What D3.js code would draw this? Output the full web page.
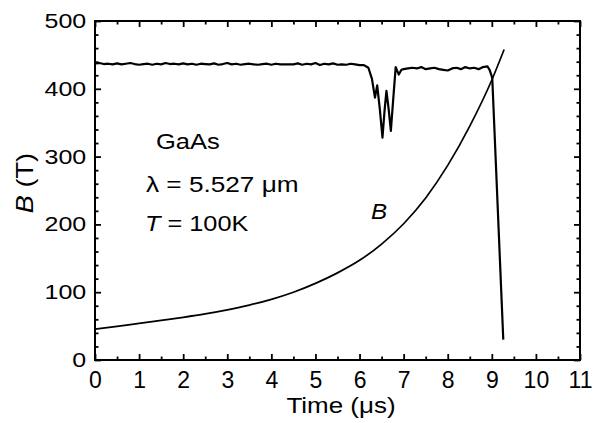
<!DOCTYPE html>
<html>
<head>
<meta charset="utf-8">
<script src="https://cdn.jsdelivr.net/npm/d3@7"></script>
<style>
  body { margin: 0; background: #fff; }
  svg text { font-family: "Liberation Sans", Arial, sans-serif; fill: #000; }
</style>
</head>
<body>
<div id="chart"></div>
<script>
// Transmission trace (plotted on the B axis)
var transTime = [
  0, 0.1, 0.2, 0.3, 0.4, 0.5, 0.6, 0.7, 0.8, 0.9,
  1.0, 1.1, 1.2, 1.3, 1.4, 1.5, 1.6, 1.7, 1.8, 1.9,
  2.0, 2.1, 2.2, 2.3, 2.4, 2.5, 2.6, 2.7, 2.8, 2.9,
  3.0, 3.1, 3.2, 3.3, 3.4, 3.5, 3.6, 3.7, 3.8, 3.9,
  4.0, 4.1, 4.2, 4.3, 4.4, 4.5, 4.6, 4.7, 4.8, 4.9,
  5.0, 5.1, 5.2, 5.3, 5.4, 5.5, 5.6, 5.7, 5.8, 5.9,
  6.0, 6.1, 6.2, 6.28, 6.35, 6.40, 6.46, 6.52, 6.57, 6.61,
  6.66, 6.71, 6.77, 6.82, 6.89, 6.95,
  7.0, 7.1, 7.2, 7.3, 7.4, 7.5, 7.6, 7.7, 7.8, 7.9,
  8.0, 8.1, 8.2, 8.3, 8.4, 8.5, 8.6, 8.7, 8.8, 8.9,
  8.95, 9.01, 9.26
];
var transValue = [
  437.5, 438, 436.5, 437, 436, 437.5, 436, 437, 438, 436.5,
  435.5, 436.5, 437, 435.5, 437, 436, 438, 436.5, 437, 436,
  437.5, 436, 437, 435.5, 437, 436.5, 436, 437.5, 435.5, 436.5,
  438, 436, 437, 435.5, 436.5, 437, 436, 435.5, 436.5, 437,
  435.5, 437, 436, 436, 436, 436, 437.5, 435.5, 437, 436,
  438, 435, 437, 436, 437.5, 435.5, 436, 435.5, 437, 436,
  435, 435, 431, 415, 387, 405, 370, 328, 370, 397,
  370, 338, 390, 432, 421, 428,
  429, 430, 431, 430, 432, 429, 430, 431, 429, 428,
  427, 430, 431, 429, 432, 430, 431, 429, 432, 433,
  428, 416, 30
];

// Magnetic field B(t)
var bTime  = [0, 0.5, 1, 1.5, 2, 2.5, 3, 3.5, 4, 4.5, 5, 5.5, 6, 6.5, 7, 7.5, 8, 8.5, 9, 9.28];
var bValue = [45.5, 49.5, 54, 58.5, 63, 68, 74, 81, 89.5, 100, 113, 128.5, 147, 171, 201, 239, 287, 345, 413, 458];

var xTicks = [0, 1, 2, 3, 4, 5, 6, 7, 8, 9, 10, 11];
var yTicks = [0, 100, 200, 300, 400, 500];

var svgWidth = 599, svgHeight = 423;
var plot = { left: 95, right: 580, top: 21, bottom: 360 };

var svg = d3.select("#chart").append("svg")
  .attr("width", svgWidth)
  .attr("height", svgHeight);

var x = d3.scaleLinear().domain([0, 11]).range([plot.left, plot.right]);
var y = d3.scaleLinear().domain([0, 500]).range([plot.bottom, plot.top]);

var xMinor = d3.range(0.5, 11, 1);
var yMinor = d3.range(0, 501, 20).filter(d => d % 100 !== 0);

// the scanned lettering is a bit wider than Arial, so stretch it horizontally
function styleAxis(g, size, stretch) {
  g.select(".domain").remove();
  g.selectAll("line").attr("stroke", "#000").attr("stroke-width", 1.8);
  g.attr("font-family", null).attr("font-size", null);
  g.selectAll("text")
    .style("font-size", size + "px")
    .attr("transform", `scale(${stretch},1)`);
}

// bottom axis (major with labels, minor without)
svg.append("g").attr("transform", `translate(0,${plot.bottom})`)
  .call(d3.axisBottom(x).tickValues(xTicks).tickSize(-6).tickPadding(12).tickFormat(d3.format("d")))
  .call(styleAxis, 23, 1);
svg.append("g").attr("transform", `translate(0,${plot.bottom})`)
  .call(d3.axisBottom(x).tickValues(xMinor).tickSize(-3.5).tickFormat(""))
  .call(styleAxis, 23, 1);
// top axis
svg.append("g").attr("transform", `translate(0,${plot.top})`)
  .call(d3.axisTop(x).tickValues(xTicks).tickSize(-6).tickFormat(""))
  .call(styleAxis, 23, 1);
svg.append("g").attr("transform", `translate(0,${plot.top})`)
  .call(d3.axisTop(x).tickValues(xMinor).tickSize(-3.5).tickFormat(""))
  .call(styleAxis, 23, 1);
// left axis
svg.append("g").attr("transform", `translate(${plot.left},0)`)
  .call(d3.axisLeft(y).tickValues(yTicks).tickSize(-6).tickPadding(7).tickFormat(d3.format("d")))
  .call(styleAxis, 20, 1.25);
svg.append("g").attr("transform", `translate(${plot.left},0)`)
  .call(d3.axisLeft(y).tickValues(yMinor).tickSize(-3.5).tickFormat(""))
  .call(styleAxis, 20, 1);
// right axis
svg.append("g").attr("transform", `translate(${plot.right},0)`)
  .call(d3.axisRight(y).tickValues(yTicks).tickSize(-6).tickFormat(""))
  .call(styleAxis, 20, 1);
svg.append("g").attr("transform", `translate(${plot.right},0)`)
  .call(d3.axisRight(y).tickValues(yMinor).tickSize(-3.5).tickFormat(""))
  .call(styleAxis, 20, 1);

// frame
svg.append("rect")
  .attr("x", plot.left).attr("y", plot.top)
  .attr("width", plot.right - plot.left).attr("height", plot.bottom - plot.top)
  .attr("fill", "none").attr("stroke", "#000").attr("stroke-width", 2);

// curves
var transLine = d3.line()
  .x((d, i) => x(transTime[i]))
  .y(d => y(d))
  .curve(d3.curveLinear);

svg.append("path")
  .datum(transValue)
  .attr("d", transLine)
  .attr("fill", "none")
  .attr("stroke", "#000")
  .attr("stroke-width", 2.2)
  .attr("stroke-linejoin", "round");

var bLine = d3.line()
  .x((d, i) => x(bTime[i]))
  .y(d => y(d))
  .curve(d3.curveMonotoneX);

svg.append("path")
  .datum(bValue)
  .attr("d", bLine)
  .attr("fill", "none")
  .attr("stroke", "#000")
  .attr("stroke-width", 1.7);

// text helper: positioned at (px, py), stretched horizontally
function label(px, py, size, stretch, rotate) {
  return svg.append("text")
    .attr("transform", `translate(${px},${py})` + (rotate ? ` rotate(${rotate})` : "") + ` scale(${stretch},1)`)
    .style("font-size", size + "px");
}

// axis titles
label(341, 413, 22, 1.18).attr("text-anchor", "middle").text("Time (\u03bcs)");

var yTitle = label(33, 183, 23, 1.18, -90).attr("text-anchor", "middle");
yTitle.append("tspan").style("font-style", "italic").text("B");
yTitle.append("tspan").text(" (T)");

// annotations
label(156, 149, 22, 1.16).text("GaAs");
label(146, 192, 22, 1.19).text("\u03bb = 5.527 \u03bcm");
var tLabel = label(145, 231, 22, 1.15);
tLabel.append("tspan").style("font-style", "italic").text("T");
tLabel.append("tspan").text(" = 100K");

label(371, 219, 22, 1.1).style("font-style", "italic").text("B");
</script>
</body>
</html>
